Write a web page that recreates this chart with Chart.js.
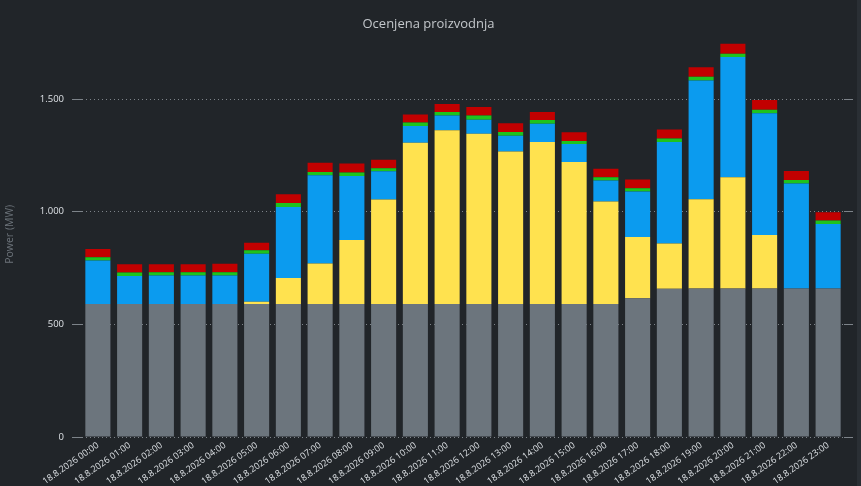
<!DOCTYPE html>
<html>
<head>
<meta charset="utf-8">
<script src="https://cdn.jsdelivr.net/npm/chart.js@4"></script>
<style>
  html, body { margin: 0; padding: 0; background: #212529; overflow: hidden; }
  #wrap { position: absolute; left: 0; top: 0; width: 857px; height: 486px; }
  #strip { position: absolute; left: 857px; top: 0; width: 4px; height: 486px; background: #2a2f34; }
</style>
</head>
<body>
<div id="wrap"><canvas id="c"></canvas></div>
<div id="strip"></div>
<script>
const categories = [
  '18.8.2026 00:00','18.8.2026 01:00','18.8.2026 02:00','18.8.2026 03:00','18.8.2026 04:00','18.8.2026 05:00',
  '18.8.2026 06:00','18.8.2026 07:00','18.8.2026 08:00','18.8.2026 09:00','18.8.2026 10:00','18.8.2026 11:00',
  '18.8.2026 12:00','18.8.2026 13:00','18.8.2026 14:00','18.8.2026 15:00','18.8.2026 16:00','18.8.2026 17:00',
  '18.8.2026 18:00','18.8.2026 19:00','18.8.2026 20:00','18.8.2026 21:00','18.8.2026 22:00','18.8.2026 23:00'
];
const baseLoad = [590,590,590,590,590,590,590,590,590,590,590,590,590,590,590,590,590,616,658,659,659,659,659,659];
const solar    = [0,0,0,0,0,10,116,180,285,464,717,772,757,678,720,631,456,272,201,397,494,238,0,0];
const wind     = [194,125,127,127,127,214,315,392,284,126,74,66,62,70,81,80,93,202,451,527,534,540,467,287];
const hydro    = [14,15,15,15,15,15,18,15,15,13,15,15,18,16,16,13,14,14,15,17,15,16,15,15];
const other    = [37,37,35,35,37,34,39,41,40,38,36,35,38,39,36,39,38,39,40,42,44,43,40,37];
const yTicks = [0, 500, 1000, 1500];

const mk = (label, data, color) => ({
  label, data, backgroundColor: color, borderWidth: 0,
  barPercentage: 0.79, categoryPercentage: 1.0, stack: 's', yAxisID: 'y'
});

const filterTicks = s => { s.ticks = yTicks.map(v => ({ value: v })); };

new Chart(document.getElementById('c'), {
  type: 'bar',
  data: {
    labels: categories,
    datasets: [
      mk('Osnovna', baseLoad, '#6c757d'),
      mk('Sončna', solar, '#ffe24f'),
      mk('Vetrna', wind, '#0b9bef'),
      mk('Hidro', hydro, '#1ec31e'),
      mk('Ostalo', other, '#c20000')
    ]
  },
  options: {
    responsive: true,
    maintainAspectRatio: false,
    animation: false,
    layout: { padding: 0 },
    plugins: {
      legend: { display: false },
      tooltip: { enabled: false },
      title: {
        display: true,
        text: 'Ocenjena proizvodnja',
        color: '#c3c7cb',
        font: { family: 'Open Sans', size: 13, weight: 'normal' },
        padding: { top: 16, bottom: 0 }
      }
    },
    scales: {
      x: {
        stacked: true,
        grid: { display: false, drawTicks: false },
        border: { display: false },
        ticks: {
          color: '#dde1e5',
          font: { family: 'Open Sans', size: 9 },
          minRotation: 35, maxRotation: 35,
          autoSkip: false,
          padding: 3
        },
        afterFit: s => { s.height = 49; }
      },
      y: {
        stacked: true,
        min: 0, max: 1800,
        position: 'left',
        afterBuildTicks: filterTicks,
        grid: {
          color: '#7d8389',
          lineWidth: 1,
          drawTicks: true,
          tickLength: 10,
          tickColor: '#7d8389'
        },
        border: { display: false, dash: [1, 3] },
        ticks: {
          color: '#dde1e5',
          font: { family: 'Open Sans', size: 9.5 },
          padding: 8,
          callback: v => v.toLocaleString('de-DE')
        },
        title: {
          display: true,
          text: 'Power (MW)',
          color: '#6c737a',
          font: { family: 'Open Sans', size: 10.5 },
          padding: { top: 4, bottom: 0 }
        },
        afterFit: s => { s.width = 82; }
      },
      y2: {
        position: 'right',
        min: 0, max: 1800,
        afterBuildTicks: filterTicks,
        grid: {
          drawOnChartArea: false,
          drawTicks: true,
          tickLength: 9,
          tickColor: '#7d8389'
        },
        border: { display: false, dash: [1, 3] },
        ticks: { display: false },
        afterFit: s => { s.width = 13; }
      }
    }
  }
});
</script>
</body>
</html>
